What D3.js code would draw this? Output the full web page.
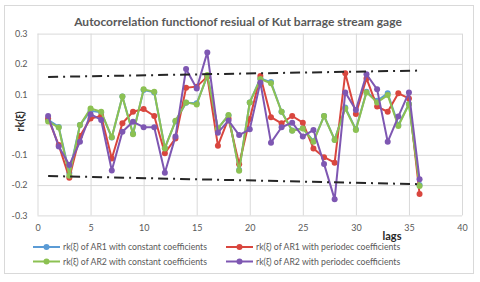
<!DOCTYPE html>
<html>
<head>
    <title>Autocorrelation function</title>
    <script src="https://d3js.org/d3.v7.min.js"></script>
    <style>
        body {
            margin: 0;
            background: #fff;
            font-family: Lato, "Open Sans", sans-serif;
        }
        .grid line {
            stroke: #d9d9d9;
            stroke-width: 1;
        }
        .grid .domain {
            display: none;
        }
        .tick text {
            fill: #595959;
            font-size: 9px;
            font-family: Lato, sans-serif;
        }
    </style>
</head>
<body>
    <svg id="chart" width="480" height="282"></svg>

    <script>
        // lags 1..36
        const lags = d3.range(1, 37);

        const ar1Const = [0.015, -0.008, -0.16, -0.002, 0.045, 0.04, -0.043, 0.092, -0.03, 0.114, 0.106,
            -0.077, 0.01, 0.072, 0.07, 0.16, -0.013, 0.03, -0.15, 0.073, 0.152, 0.14, 0.042, -0.02, -0.012,
            -0.055, 0.028, -0.05, 0.056, -0.016, 0.108, 0.078, 0.103, -0.002, 0.068, -0.2];
        const ar1Periodic = [0.02, -0.068, -0.176, -0.038, 0.02, 0.028, -0.112, 0.004, 0.042, 0.051, 0.028,
            -0.095, -0.046, 0.121, 0.125, 0.158, -0.07, 0.02, -0.131, 0.018, 0.16, 0.024, 0.004, 0.028, 0.006,
            -0.079, -0.108, -0.126, 0.169, 0.035, 0.152, 0.059, 0.042, 0.103, 0.086, -0.229];
        const ar2Const = [0.01, -0.01, -0.169, -0.002, 0.053, 0.042, -0.042, 0.092, -0.032, 0.116, 0.108,
            -0.079, 0.012, 0.073, 0.066, 0.163, -0.013, 0.031, -0.153, 0.073, 0.15, 0.136, 0.042, -0.021, -0.013,
            -0.057, 0.028, -0.051, 0.053, -0.018, 0.106, 0.073, 0.097, -0.005, 0.067, -0.203];
        const ar2Periodic = [0.028, -0.073, -0.134, -0.057, 0.034, 0.015, -0.152, -0.024, 0.009, -0.009, -0.009,
            -0.159, -0.04, 0.183, 0.119, 0.238, -0.027, 0.013, -0.035, -0.016, 0.139, -0.06, -0.009, 0.006, -0.04,
            -0.018, -0.13, -0.247, 0.106, 0.048, 0.166, 0.116, -0.057, 0.026, 0.106, -0.181];

        // confidence limits (straight dash-dot lines)
        const limitLags = [1, 36];
        const upperLimit = [0.157, 0.178];
        const lowerLimit = [-0.17, -0.197];

        const xTicks = [0, 5, 10, 15, 20, 25, 30, 35, 40];
        const yTicks = [-0.3, -0.2, -0.1, 0, 0.1, 0.2, 0.3];

        const series = [
            { name: 'rk(\u03BE) of AR1 with constant coefficients', values: ar1Const, color: '#5b9bd5' },
            { name: 'rk(\u03BE) of AR1 with periodec coefficients', values: ar1Periodic, color: '#d9463e' },
            { name: 'rk(\u03BE) of AR2 with constant coefficients', values: ar2Const, color: '#8cc152' },
            { name: 'rk(\u03BE)  of AR2 with periodec coefficients', values: ar2Periodic, color: '#7e57b2' }
        ];

        const svg = d3.select('#chart');

        // outer chart border
        svg.append('rect')
            .attr('x', 4.5).attr('y', 5.5)
            .attr('width', 469).attr('height', 268)
            .attr('fill', '#fff')
            .attr('stroke', '#d9d9d9');

        const x = d3.scaleLinear().domain([0, 40]).range([37.5, 462]);
        const y = d3.scaleLinear().domain([-0.3, 0.3]).range([215.4, 33.6]);

        const plotW = x(40) - x(0);
        const plotH = y(-0.3) - y(0.3);

        // x grid + labels
        svg.append('g')
            .attr('class', 'grid')
            .attr('transform', `translate(0,${y(-0.3)})`)
            .call(d3.axisBottom(x).tickValues(xTicks).tickSize(-plotH).tickPadding(9).tickFormat(d3.format('d')));

        // y grid + labels
        svg.append('g')
            .attr('class', 'grid')
            .attr('transform', `translate(${x(0)},0)`)
            .call(d3.axisLeft(y).tickValues(yTicks).tickSize(-plotW).tickPadding(10)
                .tickFormat(d => d === 0 ? '' : d.toFixed(1)));

        // title
        svg.append('text')
            .attr('x', 238).attr('y', 26)
            .attr('text-anchor', 'middle')
            .attr('font-size', '12px')
            .attr('font-weight', 'bold')
            .attr('fill', '#595959')
            .text('Autocorrelation functionof  resiual of Kut barrage stream gage');

        // axis titles
        svg.append('text')
            .attr('transform', `translate(24,${y(0.01)}) rotate(-90)`)
            .attr('text-anchor', 'middle')
            .attr('font-size', '11px')
            .attr('font-weight', 'bold')
            .attr('fill', '#262626')
            .text('rk(\u03BE)');

        svg.append('text')
            .attr('x', 392).attr('y', 239.5)
            .attr('text-anchor', 'middle')
            .attr('font-size', '11px')
            .attr('font-weight', 'bold')
            .attr('fill', '#262626')
            .text('lags');

        // series
        const line = d3.line()
            .x((d, i) => x(lags[i]))
            .y(d => y(d));

        series.forEach(s => {
            const g = svg.append('g');
            g.append('path')
                .attr('d', line(s.values))
                .attr('fill', 'none')
                .attr('stroke', s.color)
                .attr('stroke-width', 2)
                .attr('stroke-linejoin', 'round');
            g.selectAll('circle')
                .data(s.values)
                .join('circle')
                .attr('cx', (d, i) => x(lags[i]))
                .attr('cy', d => y(d))
                .attr('r', 3)
                .attr('fill', s.color);
        });

        // confidence limits
        const limitLine = d3.line()
            .x((d, i) => x(limitLags[i]))
            .y(d => y(d));

        [upperLimit, lowerLimit].forEach(vals => {
            svg.append('path')
                .attr('d', limitLine(vals))
                .attr('fill', 'none')
                .attr('stroke', '#262626')
                .attr('stroke-width', 2)
                .attr('stroke-dasharray', '10,5,2,5');
        });

        // legend
        const legendPos = [
            { x: 33, y: 247 },
            { x: 226, y: 247 },
            { x: 33, y: 261.5 },
            { x: 226, y: 261.5 }
        ];

        series.forEach((s, i) => {
            const p = legendPos[i];
            const lg = svg.append('g').attr('transform', `translate(${p.x},${p.y})`);
            lg.append('line')
                .attr('x1', 0).attr('x2', 27)
                .attr('stroke', s.color)
                .attr('stroke-width', 2);
            lg.append('circle')
                .attr('cx', 13.5).attr('r', 3)
                .attr('fill', s.color);
            lg.append('text')
                .attr('x', 30).attr('y', 3)
                .attr('font-size', '8.7px')
                .attr('fill', '#595959')
                .text(s.name);
        });
    </script>
</body>
</html>
